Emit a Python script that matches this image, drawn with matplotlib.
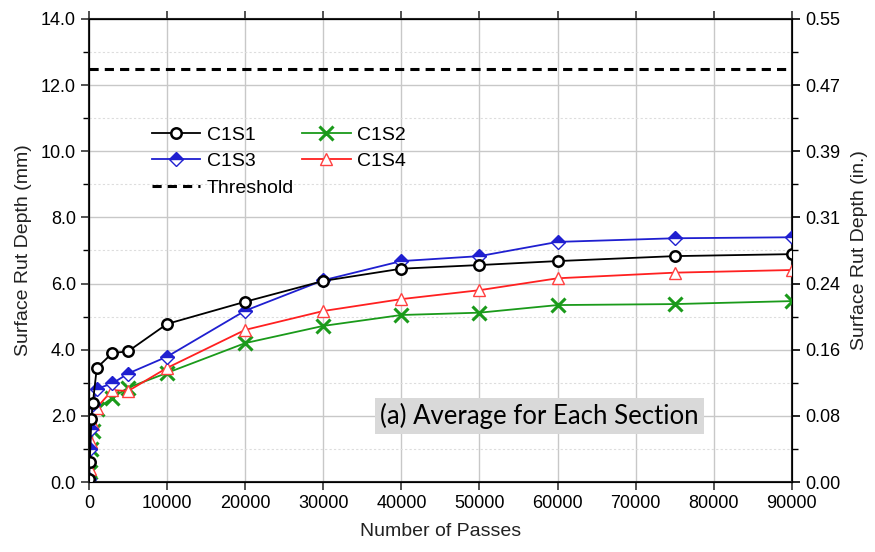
import matplotlib
matplotlib.use("Agg")
import matplotlib.pyplot as plt
from matplotlib.ticker import MultipleLocator, FuncFormatter

plt.rcParams['font.family'] = ['Liberation Sans', 'DejaVu Sans']

passes = [0, 100, 300, 500, 1000, 3000, 5000, 10000, 20000, 30000, 40000, 50000, 60000, 75000, 90000]
c1s1 = [0.1, 0.6, 1.9, 2.4, 3.45, 3.9, 3.95, 4.78, 5.45, 6.08, 6.45, 6.56, 6.68, 6.83, 6.89]
c1s2 = [0.0, 0.3, 1.0, 1.55, 2.2, 2.55, 2.85, 3.3, 4.2, 4.72, 5.05, 5.12, 5.35, 5.38, 5.47]
c1s3 = [0.1, 1.0, 1.6, 2.35, 2.82, 2.98, 3.28, 3.79, 5.18, 6.1, 6.68, 6.83, 7.26, 7.37, 7.4]
c1s4 = [0.05, 0.4, 1.2, 1.75, 2.25, 2.78, 2.75, 3.45, 4.6, 5.17, 5.53, 5.8, 6.16, 6.33, 6.41]
threshold = 12.5
annotation = "(a) Average for Each Section"

fig = plt.figure(figsize=(8.75, 5.52), dpi=100)
ax = fig.add_axes([0.1017, 0.1268, 0.8033, 0.8388])

l1, = ax.plot(passes, c1s1, color='black', lw=1.3, marker='o', ms=7.5, mfc='white', mec='black', mew=1.8, label='C1S1', zorder=5)
l3, = ax.plot(passes, c1s3, color='#1f1fd0', lw=1.3, marker='D', ms=7.5, fillstyle='top', mfc='#1f1fd0', mfcalt='white', mec='#1f1fd0', mew=1.0, label='C1S3', zorder=4)
l2, = ax.plot(passes, c1s2, color='#1a9a1a', lw=1.3, marker='x', ms=10, mew=2.2, label='C1S2', zorder=3)
l4, = ax.plot(passes, c1s4, color='#ff2020', lw=1.3, marker='^', ms=9, mfc='white', mec='#ff4040', mew=1.0, label='C1S4', zorder=3)
lt = ax.axhline(threshold, color='black', lw=2.2, ls=(0, (3, 2)), label='Threshold', zorder=2)

ax.set_xlim(0, 90000)
ax.set_ylim(0, 14)
ax.xaxis.set_major_locator(MultipleLocator(10000))
ax.yaxis.set_major_locator(MultipleLocator(2))
ax.yaxis.set_minor_locator(MultipleLocator(1))
ax.yaxis.set_major_formatter(FuncFormatter(lambda v, p: f"{v:.1f}"))
ax.grid(True, which='major', color='#c8c8c8', lw=1.0)
ax.grid(True, which='minor', axis='y', color='#dddddd', lw=0.8, ls=(0, (2, 2)))
ax.set_axisbelow(True)
ax.tick_params(axis='both', which='major', labelsize=13, length=6, width=1.2, color='#333333')
ax.tick_params(axis='y', which='minor', length=4, width=1.0)
ax.tick_params(axis='x', top=True, direction='out')
for s in ax.spines.values():
    s.set_linewidth(1.5)
    s.set_color('#222222')
ax.set_xlabel('Number of Passes', fontsize=14, color='#222222', labelpad=8)
ax.set_ylabel('Surface Rut Depth (mm)', fontsize=14, color='#222222', labelpad=6)

ax2 = ax.twinx()
ax2.set_ylim(0, 14)
ax2.yaxis.set_major_locator(MultipleLocator(2))
ax2.yaxis.set_minor_locator(MultipleLocator(1))
ax2.yaxis.set_major_formatter(FuncFormatter(lambda v, p: f"{v/25.4:.2f}"))
ax2.tick_params(axis='y', which='major', labelsize=13, length=6, width=1.2)
ax2.tick_params(axis='y', which='minor', length=4, width=1.0)
ax2.set_ylabel('Surface Rut Depth (in.)', fontsize=14, color='#222222', labelpad=8)

leg = ax.legend(handles=[l1, l3, lt, l2, l4], ncol=2, loc='upper left', bbox_to_anchor=(0.078, 0.785),
                frameon=False, fontsize=14, handlelength=2.5, columnspacing=0.4,
                labelspacing=0.45, handletextpad=0.35, borderaxespad=0)

ax.text(0.641, 0.143, annotation, transform=ax.transAxes, ha='center', va='center',
        fontsize=18.5, family=['Lato', 'DejaVu Sans'], color='black', zorder=10,
        bbox=dict(boxstyle='square,pad=0.2', fc='#d9d9d9', ec='none'))

fig.savefig('out.png', dpi=100)
